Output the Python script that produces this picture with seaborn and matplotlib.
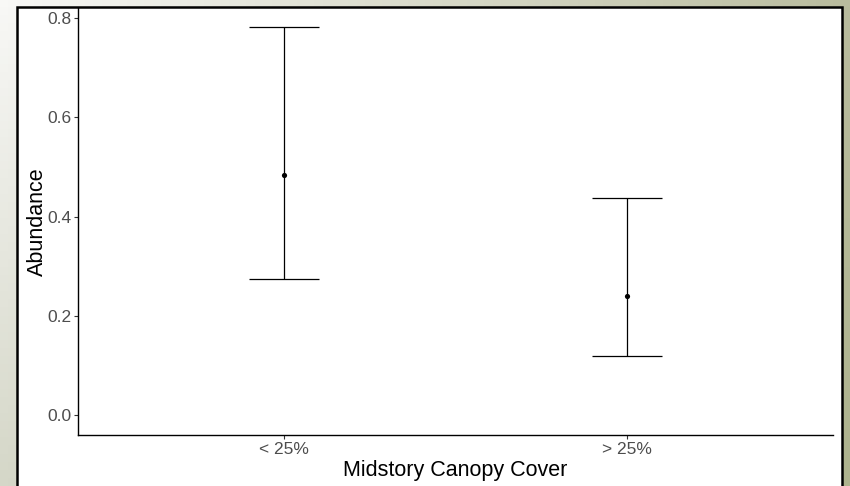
import numpy as np
import pandas as pd
import matplotlib
matplotlib.use("Agg")
import matplotlib.pyplot as plt
import matplotlib.patches as mpatches
import seaborn as sns

categories = ["< 25%", "> 25%"]
abundance = [0.484, 0.239]
lower = [0.275, 0.119]
upper = [0.782, 0.438]

sns.set_theme(style="ticks")
plt.rcParams['font.family'] = ['Liberation Sans', 'DejaVu Sans']

W, H = 850, 486
fig = plt.figure(figsize=(W / 100, H / 100), dpi=100)

# slide background gradient
bg = fig.add_axes([0, 0, 1, 1], zorder=-10)
bg.set_axis_off()
yy, xx = np.mgrid[0:1:60j, 0:1:100j]
tl = np.array([248, 248, 246]) / 255
bl = np.array([213, 215, 200]) / 255
tr = np.array([185, 188, 158]) / 255
br = np.array([174, 179, 142]) / 255
img = (tl[None, None] * ((1 - xx) * (1 - yy))[..., None] + bl[None, None] * ((1 - xx) * yy)[..., None]
       + tr[None, None] * (xx * (1 - yy))[..., None] + br[None, None] * (xx * yy)[..., None])
bg.imshow(img, extent=[0, 1, 0, 1], aspect="auto", origin="upper")
bg.set_xlim(0, 1)
bg.set_ylim(0, 1)
bg.add_patch(mpatches.Rectangle((16.5 / W, -0.05), (842 - 16.5) / W, (H - 7.5) / H + 0.05,
                                facecolor="white", edgecolor="black", linewidth=1.8,
                                transform=bg.transAxes))

df = pd.DataFrame({"cover": categories, "abundance": abundance})

ax = fig.add_axes([78 / W, (H - 435) / H, (833 - 78) / W, (435 - 8) / H])
ax.set_facecolor("none")
ax.errorbar(categories, abundance,
            yerr=[np.array(abundance) - np.array(lower), np.array(upper) - np.array(abundance)],
            fmt="none", ecolor="black", elinewidth=0.9, capsize=25.2, capthick=0.9)
sns.scatterplot(data=df, x="cover", y="abundance", ax=ax, color="black", s=14,
                edgecolor="black", linewidth=0, zorder=3)

ax.set_xlim(-0.6, 1.6)
ax.set_ylim(-0.0403, 0.8202)
ax.set_yticks([0.0, 0.2, 0.4, 0.6, 0.8])
ax.set_yticklabels(["0.0", "0.2", "0.4", "0.6", "0.8"])
for s in ["top", "right"]:
    ax.spines[s].set_visible(False)
for s in ["left", "bottom"]:
    ax.spines[s].set_color("black")
    ax.spines[s].set_linewidth(1.0)
ax.tick_params(axis="both", length=3, width=0.8, color="#333333", labelcolor="#4d4d4d",
               labelsize=12.5, pad=2)
ax.set_xlabel("Midstory Canopy Cover", fontsize=15.5, color="black", labelpad=2)
ax.set_ylabel("Abundance", fontsize=15.5, color="black", labelpad=-1)

fig.savefig("out.png", dpi=100)
